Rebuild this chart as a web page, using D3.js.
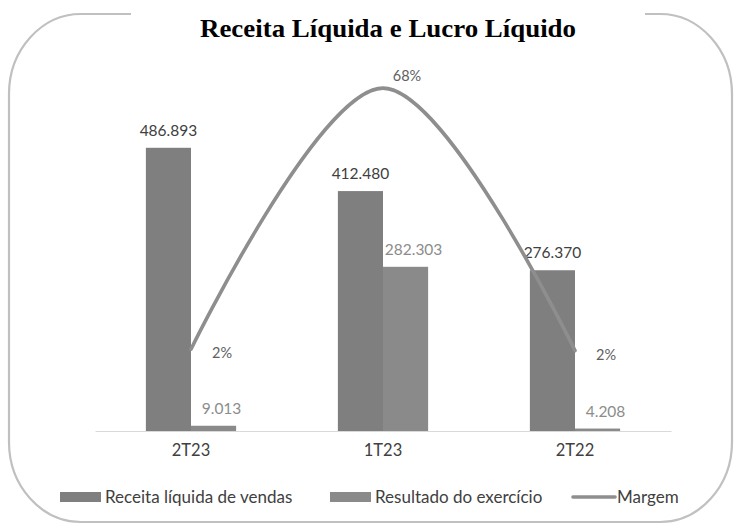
<!DOCTYPE html>
<html>
<head>
<meta charset="utf-8">
<script src="https://cdn.jsdelivr.net/npm/d3@7"></script>
<style>
  body { margin: 0; background: #fff; }
  text { font-family: Lato, "Open Sans", sans-serif; }
</style>
</head>
<body>
<svg id="chart" width="734" height="524"></svg>
<script>
// chart values
var categories = ["2T23", "1T23", "2T22"];
var receita = [486.893, 412.480, 276.370];
var resultado = [9.013, 282.303, 4.208];
var margem = [0.0185, 0.6844, 0.0152];
var margemLabels = ["2%", "68%", "2%"];
var seriesNames = ["Receita líquida de vendas", "Resultado do exercício", "Margem"];
var title = "Receita Líquida e Lucro Líquido";

var svg = d3.select("#chart");

// frame with a gap at the top for the title
var fL = 9, fR = 732, fT = 14, fB = 522, rx = 72, ry = 80;
var frame = d3.path();
frame.moveTo(131, fT);
frame.lineTo(fL + rx, fT);
frame.bezierCurveTo(fL + rx * 0.45, fT, fL, fT + ry * 0.45, fL, fT + ry);
frame.lineTo(fL, fB - ry);
frame.bezierCurveTo(fL, fB - ry * 0.45, fL + rx * 0.45, fB, fL + rx, fB);
frame.lineTo(fR - rx, fB);
frame.bezierCurveTo(fR - rx * 0.45, fB, fR, fB - ry * 0.45, fR, fB - ry);
frame.lineTo(fR, fT + ry);
frame.bezierCurveTo(fR, fT + ry * 0.45, fR - rx * 0.45, fT, fR - rx, fT);
frame.lineTo(645, fT);
svg.append("path").attr("d", frame.toString())
  .attr("fill", "none").attr("stroke", "#c0c0c0").attr("stroke-width", 2.2);

svg.append("text")
  .attr("x", 388).attr("y", 37)
  .attr("text-anchor", "middle")
  .attr("textLength", 376).attr("lengthAdjust", "spacingAndGlyphs")
  .style("font-family", "'Liberation Serif', 'Times New Roman', serif")
  .style("font-weight", "bold")
  .style("font-size", "25.5px")
  .attr("fill", "#000")
  .text(title);

var x0 = d3.scaleBand().domain(categories).range([95, 671])
  .paddingInner(0.53).paddingOuter(0.265);
var x1 = d3.scaleBand().domain([0, 1]).range([0, x0.bandwidth()]);
var y = d3.scaleLinear().domain([0, 600]).range([431, 82]);
var y2 = d3.scaleLinear().domain([-0.19, 0.7]).range([431, 82]);

var rows = categories.map(function(c, i) {
  return { cat: c, rec: receita[i], res: resultado[i], m: margem[i], ml: margemLabels[i] };
});

// bars
svg.selectAll(".rec").data(rows).enter().append("rect")
  .attr("x", function(d) { return x0(d.cat) + x1(0); })
  .attr("y", function(d) { return y(d.rec); })
  .attr("width", x1.bandwidth())
  .attr("height", function(d) { return y(0) - y(d.rec); })
  .attr("fill", "#7f7f7f");

svg.selectAll(".res").data(rows).enter().append("rect")
  .attr("x", function(d) { return x0(d.cat) + x1(1); })
  .attr("y", function(d) { return y(d.res); })
  .attr("width", x1.bandwidth())
  .attr("height", function(d) { return y(0) - y(d.res); })
  .attr("fill", "#8a8a8a");

// axis
var xAxis = svg.append("g").attr("transform", "translate(0," + y(0) + ")")
  .call(d3.axisBottom(x0).tickSize(0).tickPadding(13));
xAxis.select(".domain").attr("stroke", "#d9d9d9").attr("stroke-width", 1.2);
xAxis.selectAll("text")
  .style("font-family", "Lato, 'Open Sans', sans-serif")
  .style("font-size", "16.5px").attr("fill", "#404040");

var fmt = function(v) { return d3.format(",.3f")(v).replace(",", "."); };

svg.selectAll(".recl").data(rows).enter().append("text")
  .attr("x", function(d) { return x0(d.cat) + x1(0) + x1.bandwidth() / 2; })
  .attr("y", function(d) { return y(d.rec) - 12; })
  .attr("text-anchor", "middle")
  .style("font-size", "15.5px").attr("fill", "#404040")
  .text(function(d) { return fmt(d.rec); });

// these labels sit a little right of their bars in the original
svg.selectAll(".resl").data(rows).enter().append("text")
  .attr("x", function(d) { return x0(d.cat) + x1(1) + x1.bandwidth() / 2 + 8; })
  .attr("y", function(d) { return y(d.res) - 12; })
  .attr("text-anchor", "middle")
  .style("font-size", "15.5px").attr("fill", "#8c8c8c")
  .text(function(d) { return fmt(d.res); });

// margin line
var cx = function(d) { return x0(d.cat) + x0.bandwidth() / 2; };
var line = d3.line().x(cx).y(function(d) { return y2(d.m); }).curve(d3.curveCardinal.tension(0));
svg.append("path").datum(rows).attr("d", line)
  .attr("fill", "none").attr("stroke", "#8e8e8e").attr("stroke-width", 3.6)
  .attr("stroke-linecap", "round");

var maxM = d3.max(margem);
svg.selectAll(".ml").data(rows).enter().append("text")
  .attr("x", function(d) { return cx(d) + (d.m === maxM ? 24 : 31); })
  .attr("y", function(d) { return y2(d.m) + (d.m === maxM ? -7 : 9); })
  .attr("text-anchor", "middle")
  .style("font-size", "14.5px").attr("fill", "#606060")
  .text(function(d) { return d.ml; });

// legend
var legend = [
  { name: seriesNames[0], x: 60, kind: "rect", color: "#7f7f7f" },
  { name: seriesNames[1], x: 330, kind: "rect", color: "#8a8a8a" },
  { name: seriesNames[2], x: 573, kind: "line", color: "#8e8e8e" }
];
var lg = svg.selectAll(".lg").data(legend).enter().append("g")
  .attr("transform", function(d) { return "translate(" + d.x + ",497)"; });
lg.filter(function(d) { return d.kind === "rect"; }).append("rect")
  .attr("x", 0).attr("y", -5).attr("width", 41).attr("height", 10)
  .attr("fill", function(d) { return d.color; });
lg.filter(function(d) { return d.kind === "line"; }).append("line")
  .attr("x1", 0).attr("x2", 42).attr("y1", 0).attr("y2", 0)
  .attr("stroke", function(d) { return d.color; }).attr("stroke-width", 3.6)
  .attr("stroke-linecap", "round");
lg.append("text")
  .attr("x", function(d) { return d.kind === "rect" ? 45 : 44; })
  .attr("y", 6)
  .style("font-size", "17px").attr("fill", "#404040")
  .text(function(d) { return d.name; });
</script>
</body>
</html>
